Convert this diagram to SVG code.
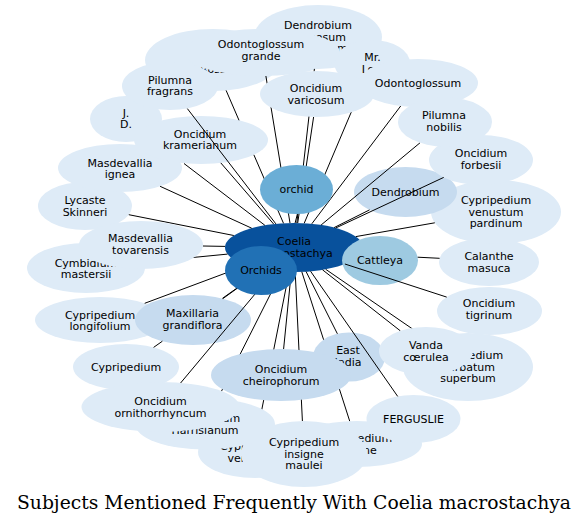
<svg xmlns="http://www.w3.org/2000/svg" width="588" height="525" viewBox="0 0 588 525">
<style>
.t{font-family:"DejaVu Sans","Liberation Sans",sans-serif;font-size:11px;text-anchor:middle;fill:#000}
.l{fill:#deebf7}
.m{fill:#c6dbef}
.e{stroke:#000;stroke-width:1;fill:none}
.title{font-family:"DejaVu Serif","Liberation Serif",serif;font-size:18px;text-anchor:middle;fill:#000}
</style>
<rect width="588" height="525" fill="#fff"/>
<g id="nodes-under">
<g id="coelia"><ellipse cx="294" cy="247.5" rx="69" ry="24.5" fill="#08519c"/><text class="t" x="294" y="245">Coelia<tspan x="294" dy="11.5">macrostachya</tspan></text></g>
<g id="calanthe"><ellipse class="l" cx="489" cy="262" rx="50" ry="24"/><text class="t" x="489" y="260">Calanthe<tspan x="489" dy="11.5">masuca</tspan></text></g>
<g id="cattleya"><ellipse cx="380" cy="260.5" rx="38" ry="24.5" fill="#9ecae1"/><text class="t" x="380" y="264">Cattleya</text></g>
<g id="cymbidium"><ellipse class="l" cx="86" cy="268" rx="59" ry="25"/><text class="t" x="86" y="266.5">Cymbidium<tspan x="86" dy="11.5">mastersii</tspan></text></g>
<g id="cypripedium"><ellipse class="l" cx="126" cy="367" rx="53" ry="23"/><text class="t" x="126" y="370.5">Cypripedium</text></g>
<g id="cyp-venustum"><ellipse class="l" cx="255" cy="452" rx="57" ry="26"/><text class="t" x="255" y="450">Cypripedium<tspan x="255" dy="11.5">venustum</tspan></text></g>
<g id="cyp-barbatum"><ellipse class="l" cx="468" cy="367" rx="65" ry="34"/><text class="t" x="468" y="359">Cypripedium<tspan x="468" dy="11.5">barbatum</tspan><tspan x="468" dy="11.5">superbum</tspan></text></g>
<g id="cyp-insigne"><ellipse class="l" cx="357" cy="444" rx="65" ry="23"/><text class="t" x="357" y="442">Cypripedium<tspan x="357" dy="11.5">insigne</tspan></text></g>
<g id="cyp-insigne-maulei"><ellipse class="l" cx="304" cy="454" rx="63" ry="33"/><text class="t" x="304" y="446">Cypripedium<tspan x="304" dy="11.5">insigne</tspan><tspan x="304" dy="11.5">maulei</tspan></text></g>
<g id="cyp-longifolium"><ellipse class="l" cx="100" cy="320" rx="65" ry="23"/><text class="t" x="100" y="318.5">Cypripedium<tspan x="100" dy="11.5">longifolium</tspan></text></g>
<g id="cyp-pardinum"><ellipse class="l" cx="496" cy="212" rx="65" ry="32"/><text class="t" x="496" y="204">Cypripedium<tspan x="496" dy="11.5">venustum</tspan><tspan x="496" dy="11.5">pardinum</tspan></text></g>
<g id="dendrobium"><ellipse class="m" cx="405.5" cy="192" rx="51.5" ry="25"/><text class="t" x="405.5" y="196">Dendrobium</text></g>
<g id="dend-formosum"><ellipse class="l" cx="318" cy="37" rx="64" ry="32"/><text class="t" x="318" y="29">Dendrobium<tspan x="318" dy="11.5">formosum</tspan><tspan x="318" dy="11.5">giganteum</tspan></text></g>
<g id="east-india"><ellipse class="m" cx="349" cy="357" rx="36" ry="24.5"/><text class="t" x="348" y="354">East<tspan x="348" dy="11.5">India</tspan></text></g>
<g id="ferguslie"><ellipse class="l" cx="413.5" cy="419" rx="47" ry="24"/><text class="t" x="413.5" y="422.5">FERGUSLIE</text></g>
<g id="jd"><ellipse class="l" cx="126" cy="119" rx="36" ry="23"/><text class="t" x="126" y="116.5">J.<tspan x="126" dy="11.5">D.</tspan></text></g>
<g id="lycaste"><ellipse class="l" cx="85" cy="206" rx="47" ry="24"/><text class="t" x="85" y="204">Lycaste<tspan x="85" dy="11.5">Skinneri</tspan></text></g>
<g id="masd-ignea"><ellipse class="l" cx="120" cy="168" rx="62" ry="24"/><text class="t" x="120" y="166.5">Masdevallia<tspan x="120" dy="11.5">ignea</tspan></text></g>
<g id="maxillaria"><ellipse class="m" cx="193" cy="320" rx="58" ry="25"/><text class="t" x="192.5" y="317">Maxillaria<tspan x="192.5" dy="11.5">grandiflora</tspan></text></g>
<g id="mr-low"><ellipse class="l" cx="372" cy="63" rx="38" ry="23"/><text class="t" x="372.5" y="61">Mr.<tspan x="372.5" dy="11.5">Low</tspan></text></g>
<g id="mr-ross"><ellipse class="l" cx="213" cy="60" rx="68" ry="31"/><text class="t" x="213" y="61">Mr.<tspan x="213" dy="11.5">Ross</tspan></text></g>
<g id="odonto-grande"><ellipse class="l" cx="262" cy="52.5" rx="78" ry="23.5"/><text class="t" x="261" y="48">Odontoglossum<tspan x="261" dy="11.5">grande</tspan></text></g>
<g id="onc-forbesii"><ellipse class="l" cx="481" cy="160" rx="52" ry="25"/><text class="t" x="481" y="157">Oncidium<tspan x="481" dy="11.5">forbesii</tspan></text></g>
<g id="onc-kramerianum"><ellipse class="l" cx="201" cy="140" rx="67" ry="24"/><text class="t" x="200" y="137.5">Oncidium<tspan x="200" dy="11.5">kramerianum</tspan></text></g>
<g id="onc-tigrinum"><ellipse class="l" cx="489.5" cy="311" rx="52.5" ry="24"/><text class="t" x="489" y="307">Oncidium<tspan x="489" dy="11.5">tigrinum</tspan></text></g>
</g>
<g id="connectors">
<path class="e" d="M417.7,257.2L439.6,258.3"/>
<path class="e" d="M227.5,254.1L143.5,262.3"/>
<path class="e" d="M263.2,269.4L222.4,298.4M162.4,341.2L153.6,347.4"/>
<path class="e" d="M289.2,271.9L258.5,426.1"/>
<path class="e" d="M281.8,271.6L217.6,398.9"/>
<path class="e" d="M325.7,269.3L428.6,340"/>
<path class="e" d="M301.8,271.8L323.6,339.7M336.5,380L349.7,421.1"/>
<path class="e" d="M295.2,272L302.4,421"/>
<path class="e" d="M246.5,265.3L144.7,303.3"/>
<path class="e" d="M355.8,236.6L434.8,222.8"/>
<path class="e" d="M334.1,227.6L369.5,209.9"/>
<path class="e" d="M296.8,223L314.4,68.9"/>
<path class="e" d="M306.1,271.6L337.4,333.8"/>
<path class="e" d="M310.6,271.3L397.7,396.4"/>
<path class="e" d="M264.9,225.3L184,163.5"/>
<path class="e" d="M233.8,235.5L128.8,214.7"/>
<path class="e" d="M251.7,228.2L160.1,186.3"/>
<path class="e" d="M225.1,246.4L202.9,246"/>
<path class="e" d="M263.4,269.5L222.9,298.6"/>
<path class="e" d="M304.2,223.3L362.6,85.3"/>
<path class="e" d="M283.5,223.3L253.9,154.9M239,120.3L226.1,90.4"/>
<path class="e" d="M311.8,223.8L400.7,106"/>
<path class="e" d="M290,223L265.9,76"/>
<path class="e" d="M291.3,272L283.6,349"/>
<path class="e" d="M335.7,228L443.7,177.4"/>
<path class="e" d="M273.7,224.1L220.8,162.9"/>
<path class="e" d="M274.3,271L180,383.7"/>
<path class="e" d="M344.9,264L446.7,297.1"/>
<path class="e" d="M297.7,223L313.6,117"/>
<path class="e" d="M275.9,223.9L187.2,108.4"/>
<path class="e" d="M321.1,225L420,142.8"/>
<path class="e" d="M322.5,269.8L400.4,330.9"/>
<path class="e" d="M295.1,223L297.4,214"/>
</g>
<g id="nodes-over">
<g id="cyp-harrisianum"><ellipse class="l" cx="205" cy="424" rx="70" ry="25.5"/><text class="t" x="205" y="422">Cypripedium<tspan x="205" dy="11.5">Harrisianum</tspan></text></g>
<g id="masd-tovarensis"><ellipse class="l" cx="141" cy="245" rx="62" ry="24"/><text class="t" x="140.5" y="242">Masdevallia<tspan x="140.5" dy="11.5">tovarensis</tspan></text></g>
<g id="odontoglossum"><ellipse class="l" cx="418" cy="83" rx="60" ry="24"/><text class="t" x="418" y="86.5">Odontoglossum</text></g>
<g id="onc-cheirophorum"><ellipse class="m" cx="281" cy="375" rx="70" ry="26"/><text class="t" x="281" y="373">Oncidium<tspan x="281" dy="11.5">cheirophorum</tspan></text></g>
<g id="onc-ornithorrhyncum"><ellipse class="l" cx="160.5" cy="407" rx="79" ry="25"/><text class="t" x="160.5" y="405">Oncidium<tspan x="160.5" dy="11.5">ornithorrhyncum</tspan></text></g>
<g id="onc-varicosum"><ellipse class="l" cx="317" cy="94" rx="57" ry="23"/><text class="t" x="316" y="92">Oncidium<tspan x="316" dy="11.5">varicosum</tspan></text></g>
<g id="orchids"><ellipse cx="261" cy="270.5" rx="36" ry="24.5" fill="#2171b5"/><text class="t" x="261" y="274">Orchids</text></g>
<g id="pil-fragrans"><ellipse class="l" cx="170" cy="86" rx="48" ry="24"/><text class="t" x="170" y="83.5">Pilumna<tspan x="170" dy="11.5">fragrans</tspan></text></g>
<g id="pil-nobilis"><ellipse class="l" cx="445" cy="122" rx="47" ry="24.5"/><text class="t" x="444" y="119">Pilumna<tspan x="444" dy="11.5">nobilis</tspan></text></g>
<g id="vanda"><ellipse class="l" cx="426" cy="351" rx="47" ry="24"/><text class="t" x="426" y="349">Vanda<tspan x="426" dy="11.5">cœrulea</tspan></text></g>
<g id="orchid"><ellipse cx="296.5" cy="189.5" rx="36.5" ry="24.5" fill="#6baed6"/><text class="t" x="296.5" y="193">orchid</text></g>
</g>
<text class="title" x="294" y="509" textLength="554" lengthAdjust="spacingAndGlyphs">Subjects Mentioned Frequently With Coelia macrostachya</text>
</svg>
